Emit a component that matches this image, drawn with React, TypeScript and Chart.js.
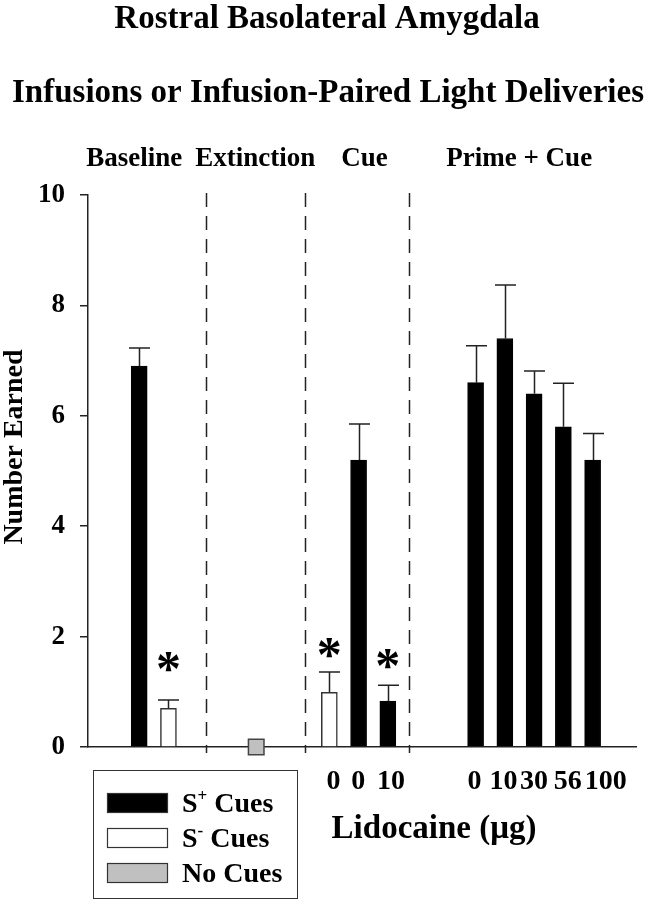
import { useEffect, useRef } from 'react';
import { Chart, registerables } from 'chart.js';

Chart.register(...registerables);

const FONT = '"Liberation Serif", "Times New Roman", Times, serif';

// ---- data ----
const titleLines = ['Rostral Basolateral Amygdala', 'Infusions or Infusion-Paired Light Deliveries'];
const groupNames = ['Baseline', 'Extinction', 'Cue', 'Prime + Cue'];
const groupCenters = [-0.34, 7.94, 15.4, 25.98];
const dividerX = [4.6, 11.33, 18.43];

const sPlusX = [0, 15, 17, 23, 25, 27, 29, 31];
const sPlusMean = [6.9, 5.2, 0.83, 6.6, 7.4, 6.4, 5.8, 5.2];
const sPlusSem = [0.33, 0.65, 0.29, 0.67, 0.97, 0.41, 0.79, 0.48];

const sMinusX = [2, 13];
const sMinusMean = [0.7, 0.99];
const sMinusSem = [0.15, 0.37];

const noCueX = [8];
const noCueMean = [0];

const sigX = [2, 13, 17];
const sigY = [1.54, 1.8, 1.59];

const doseTickX = [13.29, 14.97, 17.21, 22.93, 24.91, 26.99, 29.3, 31.9];
const doseTickLabels = ['0', '0', '10', '0', '10', '30', '56', '100'];
const xAxisTitle = 'Lidocaine (\u03bcg)';
const yAxisTitle = 'Number Earned';
const yTickValues = [0, 2, 4, 6, 8, 10];

const legendLabels = ['S', 'S', 'No Cues'];
const legendSup = ['+', '-', ''];
const legendTail = [' Cues', ' Cues', ''];
const legendFill = ['#000000', '#ffffff', '#c0c0c0'];

const overlayPlugin = {
  id: 'overlay',
  beforeDatasetsDraw(chart: any) {
    const { ctx, chartArea, scales } = chart;
    ctx.save();
    ctx.strokeStyle = '#222';
    ctx.lineWidth = 1.5;
    ctx.setLineDash([14, 9]);
    dividerX.forEach((v) => {
      const x = Math.round(scales.x.getPixelForValue(v)) + 0.5;
      ctx.beginPath();
      ctx.moveTo(x, chartArea.top - 2);
      ctx.lineTo(x, chartArea.bottom + 6);
      ctx.stroke();
    });
    ctx.restore();
  },
  afterDatasetsDraw(chart: any) {
    const { ctx, scales } = chart;
    ctx.save();
    ctx.strokeStyle = '#222';
    ctx.lineWidth = 1.5;
    chart.data.datasets.forEach((ds: any, i: number) => {
      if (!ds.sem) return;
      const meta = chart.getDatasetMeta(i);
      meta.data.forEach((el: any, j: number) => {
        const top = scales.y.getPixelForValue(ds.means[j] + ds.sem[j]);
        const x = Math.round(el.x) + 0.5;
        ctx.beginPath();
        ctx.moveTo(x, el.y);
        ctx.lineTo(x, top);
        ctx.moveTo(x - 10.5, top);
        ctx.lineTo(x + 10.5, top);
        ctx.stroke();
      });
    });
    // significance asterisks
    ctx.fillStyle = '#000';
    ctx.font = `bold 50px ${FONT}`;
    ctx.textAlign = 'center';
    ctx.textBaseline = 'alphabetic';
    const m = ctx.measureText('*');
    const mid = (m.actualBoundingBoxAscent - m.actualBoundingBoxDescent) / 2;
    sigX.forEach((v, k) => {
      const x = scales.x.getPixelForValue(v);
      const y = scales.y.getPixelForValue(sigY[k]);
      ctx.fillText('*', x, y + mid);
    });
    ctx.restore();
  },
  afterDraw(chart: any) {
    const { ctx, scales } = chart;
    ctx.save();
    ctx.fillStyle = '#000';
    ctx.textAlign = 'center';
    ctx.textBaseline = 'alphabetic';
    ctx.font = `bold 33px ${FONT}`;
    ctx.fillText(titleLines[0], 327, 28);
    ctx.fillText(titleLines[1], 328, 102);
    ctx.font = `bold 27px ${FONT}`;
    groupNames.forEach((g, i) => {
      ctx.fillText(g, scales.x.getPixelForValue(groupCenters[i]), 166);
    });
    // x axis title
    ctx.font = `bold 33px ${FONT}`;
    ctx.fillText(xAxisTitle, 434, 838);
    // y axis title
    ctx.save();
    ctx.translate(22, 447);
    ctx.rotate(-Math.PI / 2);
    ctx.font = `bold 28px ${FONT}`;
    ctx.fillText(yAxisTitle, 0, 0);
    ctx.restore();
    // legend
    ctx.strokeStyle = '#333';
    ctx.lineWidth = 1;
    ctx.strokeRect(93.5, 770.5, 204, 128);
    const rowY = [803, 838, 873];
    legendLabels.forEach((lab, i) => {
      ctx.fillStyle = legendFill[i];
      ctx.fillRect(107, rowY[i] - 10, 61, 20);
      ctx.strokeStyle = '#333';
      ctx.lineWidth = 1.2;
      ctx.strokeRect(107.5, rowY[i] - 9.5, 60, 19);
      ctx.fillStyle = '#000';
      ctx.textAlign = 'left';
      ctx.font = `bold 28px ${FONT}`;
      let x = 182;
      const base = rowY[i] + 9;
      ctx.fillText(lab, x, base);
      x += ctx.measureText(lab).width;
      if (legendSup[i]) {
        ctx.font = `bold 17px ${FONT}`;
        ctx.fillText(legendSup[i], x, base - 11);
        x += ctx.measureText(legendSup[i]).width;
        ctx.font = `bold 28px ${FONT}`;
        ctx.fillText(legendTail[i], x, base);
      }
    });
    ctx.restore();
  },
};

export default function App() {
  const ref = useRef<HTMLCanvasElement | null>(null);
  useEffect(() => {
    if (!ref.current) return;
    const chart = new Chart(ref.current, {
      type: 'bar',
      data: {
        datasets: [
          {
            label: 'S+ Cues',
            data: sPlusX.map((x, i) => ({ x, y: sPlusMean[i] })),
            means: sPlusMean,
            sem: sPlusSem,
            backgroundColor: '#000',
            borderColor: '#000',
            borderWidth: 1,
            barThickness: 16,
            grouped: false,
          } as any,
          {
            label: 'S- Cues',
            data: sMinusX.map((x, i) => ({ x, y: sMinusMean[i] })),
            means: sMinusMean,
            sem: sMinusSem,
            backgroundColor: '#fff',
            borderColor: '#333',
            borderWidth: 1.5,
            barThickness: 16,
            grouped: false,
          } as any,
          {
            type: 'line',
            label: 'No Cues',
            data: noCueX.map((x, i) => ({ x, y: noCueMean[i] })),
            showLine: false,
            pointStyle: 'rect',
            pointRadius: 11,
            pointBackgroundColor: '#c0c0c0',
            pointBorderColor: '#444',
            pointBorderWidth: 1.5,
            clip: false,
          } as any,
        ],
      },
      options: {
        responsive: false,
        animation: false,
        layout: { padding: { top: 195, right: 7, left: 0, bottom: 0 } },
        plugins: { legend: { display: false }, tooltip: { enabled: false }, title: { display: false } },
        scales: {
          x: {
            type: 'linear',
            offset: false,
            min: -3.5,
            max: 34,
            grid: { display: false, offset: false },
            border: { display: true, color: '#222', width: 1.5 },
            afterBuildTicks: (scale: any) => {
              scale.ticks = doseTickX.map((v) => ({ value: v }));
            },
            afterFit: (scale: any) => {
              scale.height = 153;
            },
            ticks: {
              autoSkip: false,
              maxRotation: 0,
              minRotation: 0,
              padding: 10,
              color: '#000',
              font: { family: FONT, size: 28, weight: 'bold' },
              callback: (_v: any, i: number) => doseTickLabels[i],
            },
          },
          y: {
            min: 0,
            max: 10,
            afterBuildTicks: (scale: any) => {
              scale.ticks = yTickValues.map((v) => ({ value: v }));
            },
            afterFit: (scale: any) => {
              scale.width = 88;
            },
            grid: { drawOnChartArea: false, drawTicks: true, tickLength: 8, color: '#222', lineWidth: 1.5 },
            border: { display: true, color: '#222', width: 1.5 },
            ticks: {
              padding: 15,
              color: '#000',
              font: { family: FONT, size: 27, weight: 'bold' },
            },
          },
        },
      } as any,
      plugins: [overlayPlugin],
    });
    return () => chart.destroy();
  }, []);
  return (
    <div style={{ position: 'absolute', left: 0, top: 0, width: 649, height: 900, background: '#fff' }}>
      <canvas ref={ref} width={649} height={900} style={{ display: 'block' }} />
    </div>
  );
}
